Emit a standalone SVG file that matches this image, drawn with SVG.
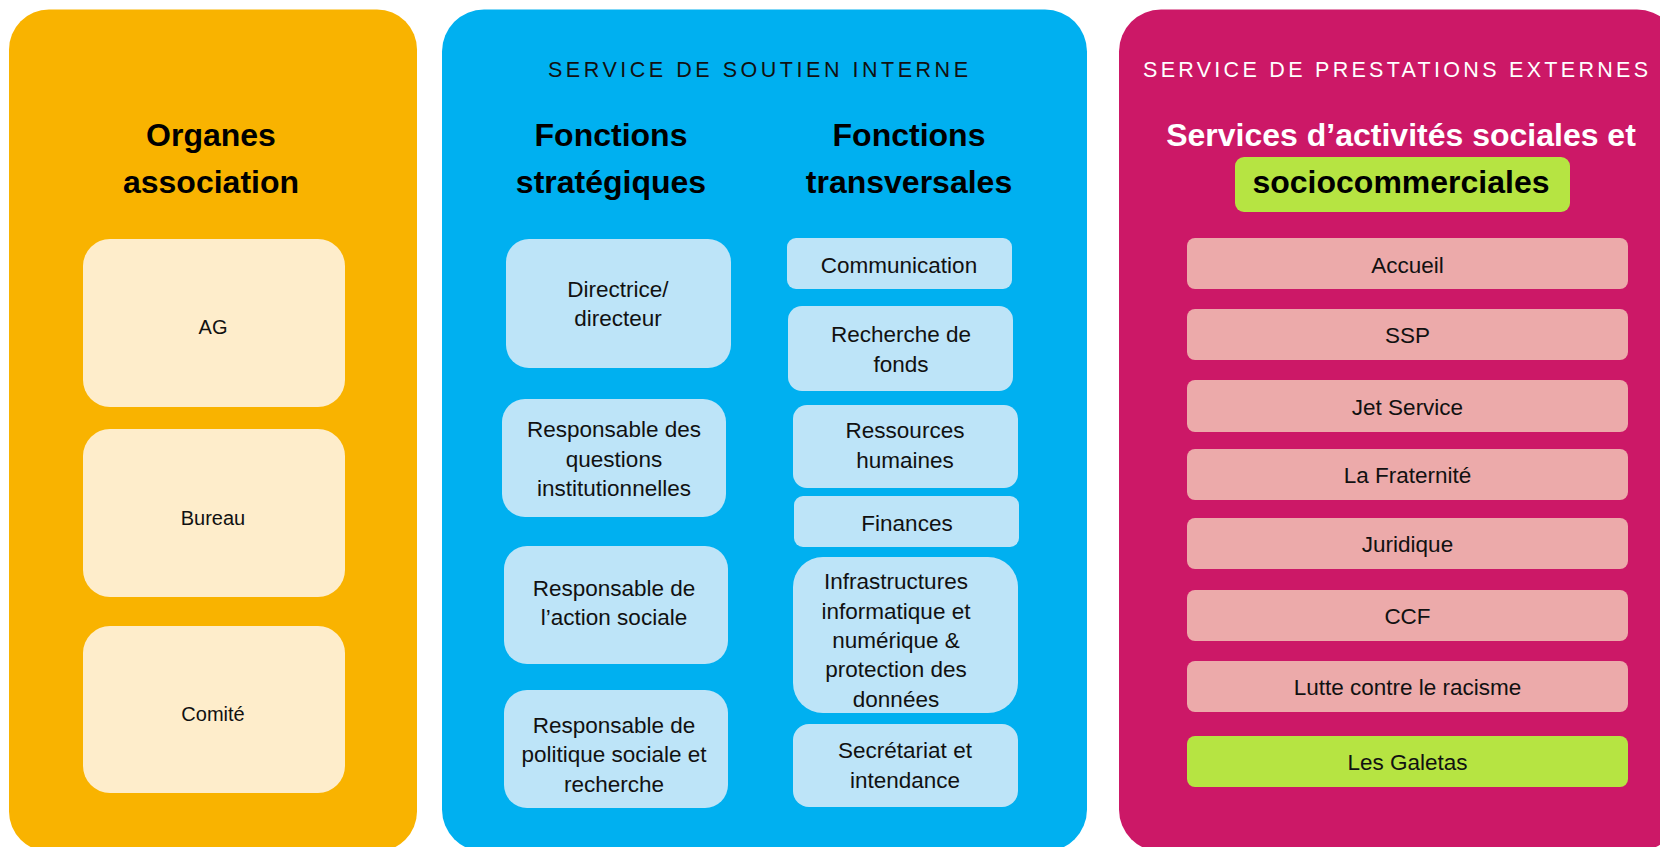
<svg xmlns="http://www.w3.org/2000/svg" width="1660" height="847" viewBox="0 0 1660 847">
<style>
  text { font-family: "Liberation Sans", Arial, sans-serif; fill: #111; text-anchor: middle; }
  .title { font-weight: bold; font-size: 32px; fill: #000; }
  .cap { font-size: 21.5px; text-anchor: start; }
  .lbl { font-size: 22.5px; }
  .olbl { font-size: 20px; }
  .cream { fill: #FEEDCB; }
  .lblue { fill: #BDE4F8; }
  .lpink { fill: #ECAAAA; }
  .lime { fill: #B6E442; }
</style>
<rect width="1660" height="847" fill="#FFFFFF"/>

<g id="panel-organes">
  <rect x="9" y="9.5" width="408" height="842" rx="40" fill="#F9B300"/>
  <text class="title" x="211" y="146">Organes</text>
  <text class="title" x="211" y="193">association</text>
</g>
<g id="node-ag">
  <rect class="cream" x="83" y="239" width="262" height="168" rx="27"/>
  <text class="olbl" x="213" y="334">AG</text>
</g>
<g id="node-bureau">
  <rect class="cream" x="83" y="429" width="262" height="168" rx="27"/>
  <text class="olbl" x="213" y="525">Bureau</text>
</g>
<g id="node-comite">
  <rect class="cream" x="83" y="626" width="262" height="167" rx="27"/>
  <text class="olbl" x="213" y="721">Comité</text>
</g>

<g id="panel-soutien">
  <rect x="442" y="9.5" width="645" height="842" rx="42" fill="#00B0F0"/>
  <text class="cap" x="548" y="77" textLength="420" lengthAdjust="spacing">SERVICE DE SOUTIEN INTERNE</text>
  <text class="title" x="611" y="146">Fonctions</text>
  <text class="title" x="611" y="193">stratégiques</text>
  <text class="title" x="909" y="146">Fonctions</text>
  <text class="title" x="909" y="193">transversales</text>
</g>

<g id="node-directrice">
  <rect class="lblue" x="506" y="239" width="225" height="129" rx="23"/>
  <text class="lbl" x="618" y="297">Directrice/</text>
  <text class="lbl" x="618" y="326">directeur</text>
</g>
<g id="node-institutionnelles">
  <rect class="lblue" x="502" y="399" width="224" height="118" rx="23"/>
  <text class="lbl" x="614" y="437">Responsable des</text>
  <text class="lbl" x="614" y="467">questions</text>
  <text class="lbl" x="614" y="496">institutionnelles</text>
</g>
<g id="node-action-sociale">
  <rect class="lblue" x="504" y="546" width="224" height="118" rx="23"/>
  <text class="lbl" x="614" y="596">Responsable de</text>
  <text class="lbl" x="614" y="625">l’action sociale</text>
</g>
<g id="node-politique-sociale">
  <rect class="lblue" x="504" y="690" width="224" height="118" rx="23"/>
  <text class="lbl" x="614" y="733">Responsable de</text>
  <text class="lbl" x="614" y="762">politique sociale et</text>
  <text class="lbl" x="614" y="792">recherche</text>
</g>

<g id="node-communication">
  <rect class="lblue" x="787" y="238" width="225" height="51" rx="9"/>
  <text class="lbl" x="899" y="273">Communication</text>
</g>
<g id="node-recherche-fonds">
  <rect class="lblue" x="788" y="306" width="225" height="85" rx="14"/>
  <text class="lbl" x="901" y="342">Recherche de</text>
  <text class="lbl" x="901" y="372">fonds</text>
</g>
<g id="node-rh">
  <rect class="lblue" x="793" y="405" width="225" height="83" rx="14"/>
  <text class="lbl" x="905" y="438">Ressources</text>
  <text class="lbl" x="905" y="468">humaines</text>
</g>
<g id="node-finances">
  <rect class="lblue" x="794" y="496" width="225" height="51" rx="9"/>
  <text class="lbl" x="907" y="531">Finances</text>
</g>
<g id="node-infrastructures">
  <rect class="lblue" x="793" y="557" width="225" height="156" rx="30"/>
  <text class="lbl" x="896" y="589">Infrastructures</text>
  <text class="lbl" x="896" y="619">informatique et</text>
  <text class="lbl" x="896" y="648">numérique &amp;</text>
  <text class="lbl" x="896" y="677">protection des</text>
  <text class="lbl" x="896" y="707">données</text>
</g>
<g id="node-secretariat">
  <rect class="lblue" x="793" y="724" width="225" height="83" rx="16"/>
  <text class="lbl" x="905" y="758">Secrétariat et</text>
  <text class="lbl" x="905" y="788">intendance</text>
</g>

<g id="panel-prestations">
  <rect x="1119" y="9.5" width="560" height="842" rx="42" fill="#CC1867"/>
  <text class="cap" x="1143" y="77" textLength="505" lengthAdjust="spacing" style="fill:#FFFFFF">SERVICE DE PRESTATIONS EXTERNES</text>
  <text class="title" x="1401" y="146" style="fill:#FFFFFF">Services d’activités sociales et</text>
  <rect class="lime" x="1235" y="157" width="335" height="55" rx="9"/>
  <text class="title" x="1401" y="193">sociocommerciales</text>
</g>

<g id="node-accueil">
  <rect class="lpink" x="1187" y="238" width="441" height="51" rx="8"/>
  <text class="lbl" x="1407.5" y="273">Accueil</text>
</g>
<g id="node-ssp">
  <rect class="lpink" x="1187" y="309" width="441" height="51" rx="8"/>
  <text class="lbl" x="1407.5" y="343">SSP</text>
</g>
<g id="node-jet-service">
  <rect class="lpink" x="1187" y="380" width="441" height="52" rx="8"/>
  <text class="lbl" x="1407.5" y="415">Jet Service</text>
</g>
<g id="node-fraternite">
  <rect class="lpink" x="1187" y="449" width="441" height="51" rx="8"/>
  <text class="lbl" x="1407.5" y="483">La Fraternité</text>
</g>
<g id="node-juridique">
  <rect class="lpink" x="1187" y="518" width="441" height="51" rx="8"/>
  <text class="lbl" x="1407.5" y="552">Juridique</text>
</g>
<g id="node-ccf">
  <rect class="lpink" x="1187" y="590" width="441" height="51" rx="8"/>
  <text class="lbl" x="1407.5" y="624">CCF</text>
</g>
<g id="node-racisme">
  <rect class="lpink" x="1187" y="661" width="441" height="51" rx="8"/>
  <text class="lbl" x="1407.5" y="695">Lutte contre le racisme</text>
</g>
<g id="node-galetas">
  <rect class="lime" x="1187" y="736" width="441" height="51" rx="8"/>
  <text class="lbl" x="1407.5" y="770">Les Galetas</text>
</g>

<g id="connectors"></g>
</svg>
